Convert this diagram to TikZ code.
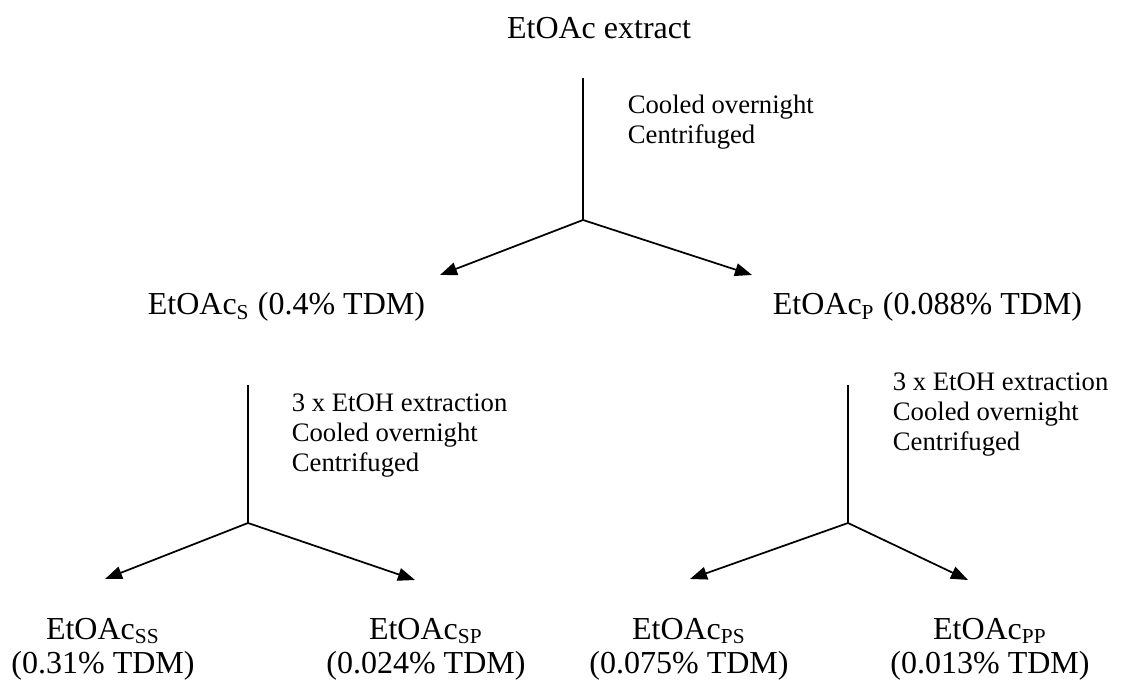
\documentclass[tikz,border=0pt]{standalone}
\usepackage{fontspec}
\setmainfont{Liberation Serif}
\usetikzlibrary{arrows.meta}

\begin{document}
\begin{tikzpicture}[x = 0.375pt, y = -0.375pt, > = {Triangle[length = 6.4pt, width = 4.8pt]}, line width = 0.65pt,
	fraction/.style = {anchor = base, inner sep = 0pt, align = center, font = \fontsize{12}{12.75}\selectfont},
	treatment/.style = {anchor = base west, inner sep = 0pt, align = left, font = \fontsize{10}{11.25}\selectfont}]

	% Page size in pixels of the reference
	
	\useasboundingbox (0, 0) rectangle (1143, 682);

	
	% Fractions (base of a two-line node is its last line)
	
	\node [fraction] (extract) at (599, 39) {EtOAc extract};
	\node [fraction, anchor = base west] (s) at (147, 315) {EtOAc\textsubscript{S} (0.4\% TDM)};
	\node [fraction, anchor = base west] (p) at (772, 315) {EtOAc\textsubscript{P} (0.088\% TDM)};
	
	\node [fraction] (ss) at (103, 673) {EtOAc\textsubscript{SS}\\(0.31\% TDM)};
	\node [fraction] (sp) at (426, 673) {EtOAc\textsubscript{SP}\\(0.024\% TDM)};
	\node [fraction] (ps) at (689, 673) {EtOAc\textsubscript{PS}\\(0.075\% TDM)};
	\node [fraction] (pp) at (990, 673) {EtOAc\textsubscript{PP}\\(0.013\% TDM)};

	
	% Treatments
	
	\node [treatment] (treat1) at (627, 144) {Cooled overnight\\Centrifuged};
	\node [treatment] (treat2) at (291, 472) {3 x EtOH extraction\\Cooled overnight\\Centrifuged};
	\node [treatment] (treat3) at (892, 451) {3 x EtOH extraction\\Cooled overnight\\Centrifuged};

	
	% Splits: stem top, branch point and both arrow tips
	
	\coordinate (top1) at (583, 78);
	\coordinate (split1) at (583, 220);
	\coordinate (s tip) at (440, 275);
	\coordinate (p tip) at (752, 275);
	
	\coordinate (top2) at (248, 385);
	\coordinate (split2) at (248, 523);
	\coordinate (ss tip) at (105, 579);
	\coordinate (sp tip) at (415, 580);
	
	\coordinate (top3) at (848, 385);
	\coordinate (split3) at (848, 523);
	\coordinate (ps tip) at (690, 579);
	\coordinate (pp tip) at (968, 580);
	
	\draw (top1) -- (split1);
	\draw (top2) -- (split2);
	\draw (top3) -- (split3);
	
	\begin{scope}[->]
	
		\draw (split1) -- (s tip);
		\draw (split1) -- (p tip);
		\draw (split2) -- (ss tip);
		\draw (split2) -- (sp tip);
		\draw (split3) -- (ps tip);
		\draw (split3) -- (pp tip);
		
	\end{scope}

\end{tikzpicture}
\end{document}
